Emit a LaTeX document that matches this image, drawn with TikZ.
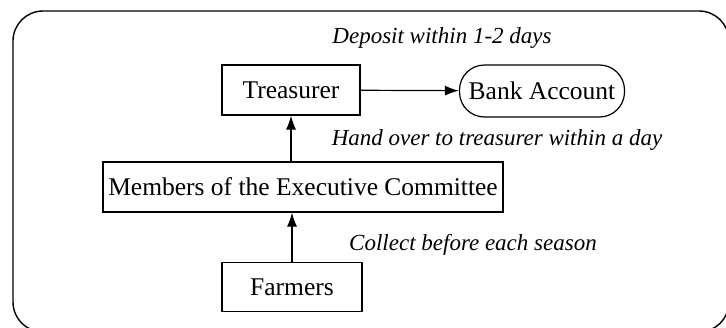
\documentclass[tikz,border=0pt]{standalone}
\usepackage{fontspec}
\setmainfont{Liberation Serif}
\usepackage{tikz}
\usetikzlibrary{positioning,arrows.meta}

\begin{document}
\begin{tikzpicture}[x=1pt, y=-1pt, line width=1.2pt,
  box/.style={draw, rectangle, minimum height=50pt, inner sep=0pt, font=\fontsize{25.5}{30}\selectfont},
  acct/.style={box, rounded corners=25pt},
  note/.style={font=\fontsize{23}{28}\selectfont\itshape, inner sep=0pt},
  flow/.style={-{Latex[length=14pt,width=10pt]}}]
  \useasboundingbox (0,0) rectangle (726,327);
  % outer frame
  \draw[line width=1.4pt, rounded corners=30pt] (13,11) rectangle (729,332);

  \node[box, minimum width=138pt] (treasurer) at (291,90) {Treasurer};
  \node[acct, minimum width=165pt, minimum height=52pt] (bank) at (542,91) {Bank Account};
  \node[box, minimum width=400pt] (members) at (303,187) {Members of the Executive Committee};
  \node[box, minimum width=140pt, minimum height=49pt] (farmers) at (292,287) {Farmers};

  \node[note] (deposit) at (442,38) {Deposit within 1-2 days};
  \node[note] (handover) at (497,140) {Hand over to treasurer within a day};
  \node[note] (collect) at (473,245) {Collect before each season};

  \draw[flow] (treasurer) -- (bank);
  \draw[flow] (treasurer.south |- members.north) -- (treasurer.south);
  \draw[flow] (farmers.north) -- (farmers.north |- members.south);
\end{tikzpicture}
\end{document}
